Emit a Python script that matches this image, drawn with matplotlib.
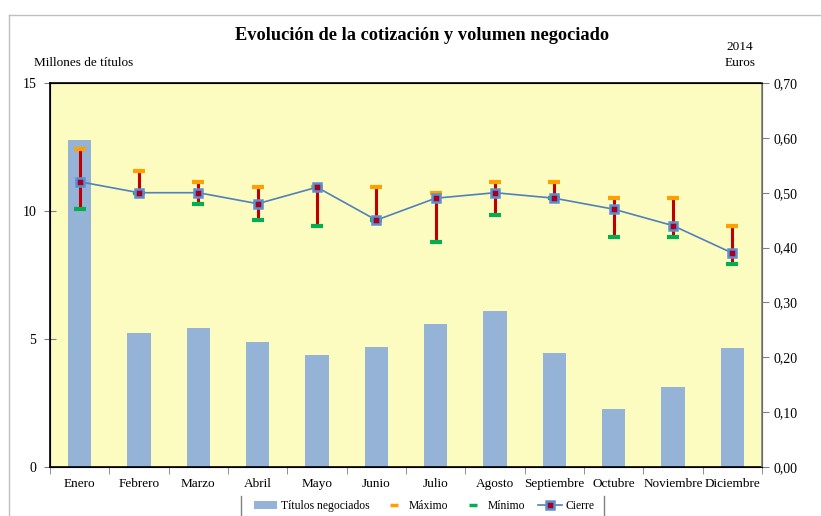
import matplotlib
matplotlib.use("Agg")
import matplotlib.pyplot as plt
from matplotlib.lines import Line2D
from matplotlib.patches import Patch
import numpy as np

meses = ["Enero", "Febrero", "Marzo", "Abril", "Mayo", "Junio", "Julio",
         "Agosto", "Septiembre", "Octubre", "Noviembre", "Diciembre"]
titulos = [12.76, 5.22, 5.42, 4.87, 4.36, 4.67, 5.58, 6.09, 4.44, 2.28, 3.14, 4.63]
maximo = [0.58, 0.54, 0.52, 0.51, 0.51, 0.51, 0.50, 0.52, 0.52, 0.49, 0.49, 0.44]
minimo = [0.47, 0.50, 0.48, 0.45, 0.44, 0.45, 0.41, 0.46, 0.49, 0.42, 0.42, 0.37]
cierre = [0.52, 0.50, 0.50, 0.48, 0.51, 0.45, 0.49, 0.50, 0.49, 0.47, 0.44, 0.39]
left_ticks = [0, 5, 10, 15]
right_ticks = [0.0, 0.1, 0.2, 0.3, 0.4, 0.5, 0.6, 0.7]

plt.rcParams['font.family'] = ['Liberation Serif', 'DejaVu Serif']

W, H = 821, 516
fig = plt.figure(figsize=(W / 100, H / 100), dpi=100)
fig.patch.set_facecolor('white')

# chart frame lines
fig.add_artist(Line2D([9 / W, 1], [1 - 15 / H, 1 - 15 / H], color='#BFBFBF', lw=1))
fig.add_artist(Line2D([9 / W, 9 / W], [0, 1 - 15 / H], color='#BFBFBF', lw=1))

ax = fig.add_axes([50 / W, (H - 467) / H, 712 / W, 384 / H])
ax.set_facecolor('#FCFBC0')
x = np.arange(len(meses))
ax.bar(x, titulos, width=0.39, color='#95B3D7', zorder=2)
ax.set_xlim(-0.5, len(meses) - 0.5)
ax.set_ylim(0, 15)
ax.set_yticks(left_ticks)
ax.set_yticklabels([str(t) for t in left_ticks], fontsize=10)
ax.tick_params(axis='y', direction='inout', length=8, width=0.8, color='#808080', pad=6)
ax.set_xticks(x)
ax.set_xticklabels(meses, fontsize=9.5)
ax.tick_params(axis='x', which='major', length=0, pad=8)
ax.set_xticks(np.arange(-0.5, len(meses) + 0.5, 1), minor=True)
ax.tick_params(axis='x', which='minor', direction='out', length=5, color='#808080')
for s in ['left', 'top', 'bottom']:
    ax.spines[s].set_color('black')
    ax.spines[s].set_linewidth(1.2)

ax2 = ax.twinx()
ax2.set_ylim(0, 0.70)
ax2.set_yticks(right_ticks)
ax2.set_yticklabels([f"{t:.2f}".replace('.', ',') for t in right_ticks], fontsize=10)
ax2.tick_params(axis='y', direction='out', length=5, color='#808080', pad=3)
ax2.spines['right'].set_color('#808080')
ax2.spines['right'].set_linewidth(1.2)

ax2.vlines(x, minimo, maximo, color='#C00000', lw=2.2, zorder=3)
ax2.plot(x, maximo, ls='none', marker='_', ms=8, mew=3, color='#FFA000', zorder=4)
ax2.plot(x, minimo, ls='none', marker='_', ms=8, mew=3, color='#00B050', zorder=4)
ax2.plot(x, cierre, color='#4F81BD', lw=1.2, marker='s', ms=6, mfc='#A50021',
         mec='#5B8FD0', mew=1.8, zorder=5)

fig.text(422 / W, 1 - 35 / H, "Evolución de la cotización y volumen negociado",
         ha='center', va='center', fontsize=13.2, fontweight='bold')
fig.text(84 / W, 1 - 63 / H, "Millones de títulos", ha='center', va='center', fontsize=9.5)
fig.text(740 / W, 1 - 47 / H, "2014", ha='center', va='center', fontsize=9.5)
fig.text(740 / W, 1 - 63 / H, "Euros", ha='center', va='center', fontsize=9.5)

handles = [
    Patch(facecolor='#95B3D7', edgecolor='none'),
    Line2D([], [], ls='none', marker='_', ms=6, mew=2.5, color='#FFA000'),
    Line2D([], [], ls='none', marker='_', ms=6, mew=2.5, color='#00B050'),
    Line2D([], [], color='#4F81BD', lw=1.2, marker='s', ms=6, mfc='#A50021', mec='#5B8FD0', mew=1.8),
]
labels = ["Títulos negociados", "Máximo", "Mínimo", "Cierre"]
fig.legend(handles, labels, loc='center', bbox_to_anchor=(424 / W, 1 - 506 / H), ncol=4,
           frameon=False, fontsize=8.4, handlelength=2.0, columnspacing=1.1, handletextpad=0.3)
fig.add_artist(Line2D([241 / W, 241 / W], [0, 1 - 496 / H], color='#808080', lw=1))
fig.add_artist(Line2D([604 / W, 604 / W], [0, 1 - 496 / H], color='#808080', lw=1))

fig.savefig("out.png", dpi=100)
